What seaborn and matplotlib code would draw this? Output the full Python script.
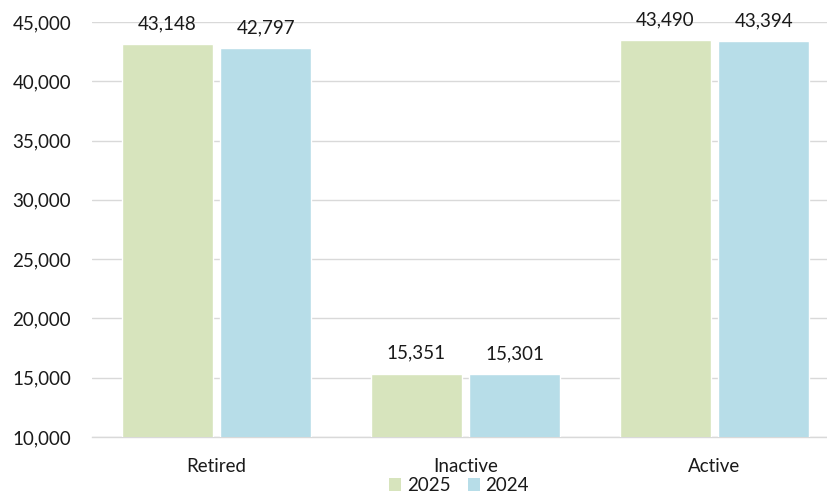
import matplotlib
matplotlib.use("Agg")
import matplotlib.pyplot as plt
import seaborn as sns
import pandas as pd
from matplotlib.patches import Patch

categories = ["Retired", "Inactive", "Active"]
years = ["2025", "2024"]
values_2025 = [43148, 15351, 43490]
values_2024 = [42797, 15301, 43394]
y_ticks = [10000, 15000, 20000, 25000, 30000, 35000, 40000, 45000]

colors = {"2025": "#D7E4BD", "2024": "#B7DDE8"}

df = pd.DataFrame({
    "category": categories * 2,
    "year": ["2025"] * 3 + ["2024"] * 3,
    "value": values_2025 + values_2024,
})

sns.set_theme(style="white")
plt.rcParams["font.family"] = ["Lato", "DejaVu Sans"]

W, H = 827, 497
FS = 13.5
fig = plt.figure(figsize=(W / 100, H / 100), dpi=100)
left, right, top, bottom = 92, 827, 22, 437
ax = fig.add_axes([left / W, 1 - bottom / H, (right - left) / W, (bottom - top) / H])

sns.barplot(data=df, x="category", y="value", hue="year", hue_order=years,
            order=categories, palette=colors, width=0.79, gap=0.07,
            saturation=1, legend=False, ax=ax, zorder=3)

ax.set_ylim(10000, 45000)
ax.set_xlim(-0.5, -0.5 + (right - left) / 249)
ax.set_yticks(y_ticks)
ax.set_yticklabels([f"{t:,}" for t in y_ticks])
ax.yaxis.grid(True, color="#D9D9D9", linewidth=1, zorder=0)
ax.set_axisbelow(True)
for s in ["top", "right", "left"]:
    ax.spines[s].set_visible(False)
ax.spines["bottom"].set_color("#D9D9D9")
ax.spines["bottom"].set_linewidth(1)
ax.tick_params(axis="y", length=0, pad=15, labelsize=FS, labelcolor="#1a1a1a")
ax.tick_params(axis="x", length=0, pad=15, labelsize=FS, labelcolor="#1a1a1a")
ax.set_xlabel("")
ax.set_ylabel("")

for container in ax.containers:
    ax.bar_label(container, labels=[f"{v:,.0f}" for v in container.datavalues],
                 padding=8.5, fontsize=FS, color="#1a1a1a")

handles = [Patch(facecolor=colors[y], edgecolor="none") for y in years]
fig.legend(handles, years, loc="lower center", ncol=2, frameon=False,
           fontsize=FS, handlelength=0.65, handleheight=0.65, handletextpad=0.3,
           columnspacing=0.9, bbox_to_anchor=(459 / W, -0.028), labelcolor="#1a1a1a")

fig.savefig("out.png", dpi=100)
